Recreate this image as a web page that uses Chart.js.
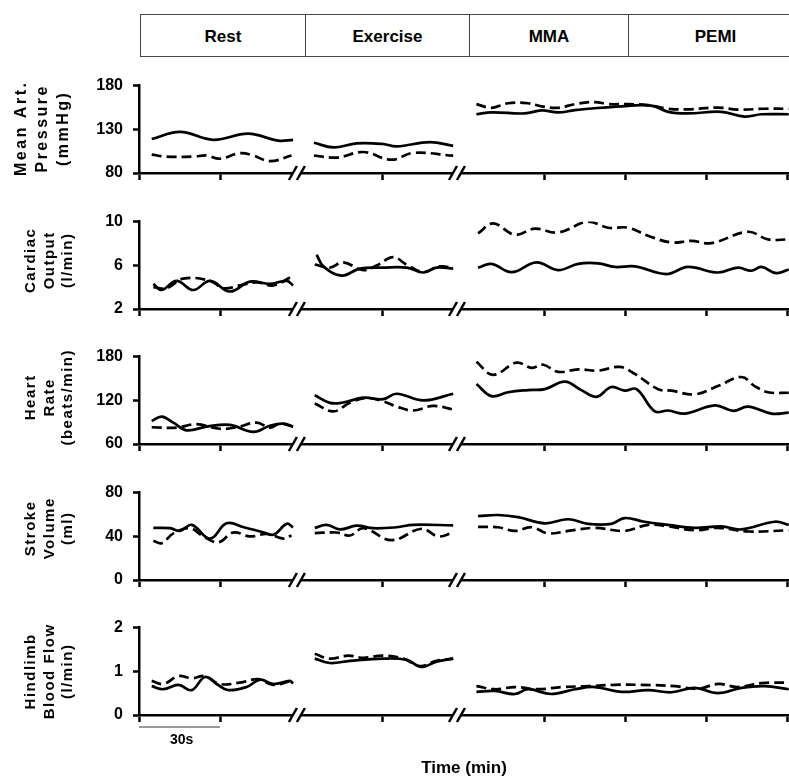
<!DOCTYPE html>
<html>
<head>
<meta charset="utf-8">
<script src="https://cdn.jsdelivr.net/npm/chart.js@4.4.0/dist/chart.umd.min.js"></script>
<style>
  body { margin: 0; background: #fff; }
  #wrap { position: relative; width: 789px; height: 777px; overflow: hidden; font-family: "Liberation Sans", Arial, sans-serif; }
  canvas { position: absolute; left: 0; }
  .phase { position: absolute; top: 14px; height: 43px; border: 1px solid #444; box-sizing: border-box;
           display: flex; align-items: center; justify-content: center; padding-top: 3px;
           font-weight: bold; font-size: 17px; color: #000; background: #fff; }
</style>
</head>
<body>
<div id="wrap">
  <div id="header"></div>
  <canvas id="cMap" width="789" height="130" style="top:66px"></canvas>
  <canvas id="cCo" width="789" height="130" style="top:202px"></canvas>
  <canvas id="cHr" width="789" height="130" style="top:337px"></canvas>
  <canvas id="cSv" width="789" height="130" style="top:473px"></canvas>
  <canvas id="cHbf" width="789" height="177" style="top:608px"></canvas>
</div>
<script>
'use strict'

// phases (seconds) shown in the header box
var phases = ['Rest', 'Exercise', 'MMA', 'PEMI'];
var phaseEdges = [0, 61, 121.8, 180.6, 245];

// time axis (seconds)
var xTicks = [0, 30, 90, 150, 180, 210, 240];
var axisBreaks = [58.4, 117.6];
var xMax = 240.4;

// [time s, value]; null = gap between recordings (rest / exercise / MMA+PEMI)
var mapSolid = [[4.7,118.9],[15.2,127],[27.5,118],[40.4,125],[51.5,117],[57,118], null,
  [64.7,114.6],[71.9,109.3],[80.5,113.9],[90.3,113.2],[95.3,110.4],[107.6,115.3],[116.2,111], null,
  [124.8,147.2],[130.4,149.3],[142.7,148.2],[148.9,151.7],[155,149.3],[161.2,152],[166.1,153.5],[178.4,156.3],
  [189.5,157],[195.7,150],[203,148.2],[215.4,150],[224,144.6],[230.2,147.2],[240.3,147.2]];
var mapDashed = [[4.7,101],[10.2,98.7],[20.1,98.7],[25,100],[29.9,96.3],[37.3,102.7],[42.3,100],[48.4,93.5],[56.4,100], null,
  [64.7,100],[73.1,97.7],[83,104],[93.4,95.2],[101.4,103],[116.2,99.8], null,
  [124.8,158.8],[130.4,154.6],[136.5,159.8],[143.9,159.8],[148.9,156.3],[155,154.6],[161.2,158.8],[168.6,161.2],
  [173.5,158.8],[180.9,158.8],[188.3,157.7],[195.7,153.5],[203,152.8],[214.1,154.9],[221.5,152.5],[231.4,153.5],[240.3,153.5]];

var coSolid = [[5.3,4.3],[8.4,3.74],[13.9,4.58],[20.1,3.74],[26.3,4.58],[33.6,3.6],[41,4.5],[48.4,4.3],[54.6,4.58],[57,4.16], null,
  [65.7,6.97],[68.2,5.9],[75,5.06],[81.7,5.7],[90.3,5.79],[99,5.79],[105.1,5.34],[110,5.79],[116.2,5.7], null,
  [125.4,5.79],[130.4,6.13],[137.8,5.37],[147,6.27],[155,5.56],[162.4,6.13],[169.8,6.18],[176,5.85],[183.4,5.9],
  [195.1,5.2],[203,5.85],[214.1,5.34],[221.5,5.79],[226.4,5.5],[230.2,5.85],[235.7,5.28],[240.3,5.62]];
var coDashed = [[5.3,4.0],[10.2,3.9],[16.4,4.78],[26.3,4.58],[31.2,3.9],[37.3,4.16],[43.5,4.44],[49.6,4.16],[56.4,4.95], null,
  [65,6.07],[70.6,5.79],[75.5,6.27],[83,5.56],[87.9,5.98],[94,6.74],[99,6.05],[105.1,5.4],[111.3,5.9],[116.2,5.75], null,
  [125.4,8.93],[131,9.83],[139,8.8],[146.4,9.35],[155,9.0],[166.1,10.0],[173.5,9.44],[180.9,9.44],[188.3,8.7],
  [196.9,8.09],[204.3,8.23],[211.7,8.03],[225.2,9.07],[232.6,8.37],[240.3,8.37]];

var hrSolid = [[4.7,91.4],[8.4,97.6],[12.7,89.3],[17.6,78.8],[25,83.8],[33.6,86.3],[42.3,76.7],[48.4,85.1],[53.4,88],[57,83.8], null,
  [65,126.9],[70.6,116.5],[75.5,117],[83,123.6],[90.3,121.5],[95.3,129],[105.1,119.8],[116.2,129], null,
  [124.8,142.4],[130.4,125.7],[136.5,131.1],[143.9,134],[150.1,135.3],[157.5,145.7],[163.6,134],[169.2,124.8],[174.7,138.2],
  [179.6,133.2],[184,135.3],[190.8,104.8],[195.7,106],[201.9,101.8],[213,113.1],[219.8,105.5],[225.2,111.4],[233.9,101.8],[240.3,103]];
var hrDashed = [[4.7,83],[13.9,82.5],[21.3,87.2],[29.9,80.9],[36.1,83],[43.5,89.3],[48.4,82.5],[52.2,88],[57,83.8], null,
  [65,115.6],[71.9,104.8],[78,116.5],[84.2,123],[90.3,118.6],[95.3,111.4],[101.4,106],[108.8,112.3],[116.2,107.3], null,
  [124.8,172.9],[131,155],[139.6,171.7],[145.2,164.5],[149.5,168.8],[155,159.1],[162.4,162.5],[169.8,160.8],[177.8,165.8],
  [183.4,156.2],[192,135.3],[197,133.2],[205.5,128.2],[214.1,139.5],[222.8,152],[227.7,139.5],[232.6,131.1],[240.3,130.3]];

var svSolid = [[5.3,47.7],[11.5,47.4],[15.2,44.9],[19.5,50.5],[26.3,37.9],[32.4,51.9],[38.8,48.3],[46.2,43.5],[49.9,41.6],[54.6,51.4],[57,48.3], null,
  [65,47.7],[69.4,50.5],[74.3,46.3],[80.5,49.7],[86.6,47.4],[95.3,48.3],[101.4,50.5],[116.2,50], null,
  [125.4,58.4],[132.8,59.5],[140.2,57.5],[150.1,51.9],[158.7,55.6],[166.1,51.4],[174.7,51.4],[179.6,56.7],[187,53.3],
  [195.7,50.5],[205.5,47.7],[215.4,49.1],[222.8,46.3],[235.1,53.3],[240.3,50.5]];
var svDashed = [[5.3,35.9],[8.4,33.7],[12.7,42.7],[18.9,47.4],[23.8,39.9],[29.3,34.5],[34.9,43.5],[41,39.9],[47.4,42.1],[53.4,37.9],[56.4,40.7], null,
  [65,42.9],[73.1,43.5],[78,40.7],[83,47.4],[93.4,36.5],[104.5,46.9],[110.7,39.9],[116.2,43.5], null,
  [125.4,48.6],[132.8,48.3],[139,44.9],[145.2,48.3],[151.3,42.7],[158.7,44.9],[168.6,47.7],[179.6,44.9],[188.3,50.5],
  [195.7,49.1],[205.5,45.5],[214.1,47.7],[225.2,44.4],[240.3,45.5]];

var hbfSolid = [[4.7,0.66],[9,0.59],[14.6,0.69],[19.5,0.57],[24.4,0.87],[28.7,0.71],[33,0.57],[39.8,0.64],[44.8,0.81],[49.6,0.71],[55.8,0.78],[57,0.72], null,
  [65,1.29],[70.6,1.19],[78,1.24],[90.3,1.29],[99,1.26],[104.5,1.1],[110,1.22],[116.2,1.29], null,
  [124.8,0.53],[131.6,0.55],[139,0.48],[143.9,0.59],[152.5,0.48],[161.2,0.59],[168.6,0.64],[178.4,0.53],[188.3,0.57],
  [196.9,0.52],[205.5,0.62],[214.1,0.5],[222.8,0.62],[231.4,0.66],[240.3,0.59]];
var hbfDashed = [[4.7,0.78],[9,0.71],[14.6,0.89],[19.5,0.84],[24.4,0.89],[29.9,0.71],[37.3,0.74],[44.1,0.82],[49.6,0.69],[56.4,0.78], null,
  [65,1.4],[70.6,1.29],[77.4,1.36],[83,1.31],[90.3,1.36],[97.8,1.29],[103.9,1.12],[110,1.24],[116.2,1.29], null,
  [124.8,0.66],[131.6,0.59],[139,0.64],[147.6,0.59],[156.3,0.64],[166.1,0.66],[176,0.69],[185.8,0.69],[198.2,0.66],
  [206.8,0.6],[214.1,0.71],[221.5,0.64],[230.2,0.73],[240.3,0.74]];

var FONT = '"Liberation Sans", Arial, sans-serif';

function toPoints(arr) {
    var out = [];
    arr.forEach(function (p, i) {
        if (p) out.push({ x: p[0], y: p[1] });
        else out.push({ x: arr[i - 1][0] + 1, y: null });
    });
    return out;
}

// axis breaks, rotated y titles, scale bar
var panelDecor = {
    id: 'panelDecor',
    afterDraw: function (chart, args, opts) {
        var ctx = chart.ctx, xs = chart.scales.x, ys = chart.scales.y;
        var base = ys.bottom;
        ctx.save();
        axisBreaks.forEach(function (t) {
            var px = xs.getPixelForValue(t);
            ctx.fillStyle = '#fff';
            ctx.fillRect(px - 4, base - 3, 8, 6);
            ctx.strokeStyle = '#000';
            ctx.lineWidth = 2.5;
            [-4, 4].forEach(function (d) {
                ctx.beginPath();
                ctx.moveTo(px + d - 4, base + 7);
                ctx.lineTo(px + d + 4, base - 7);
                ctx.stroke();
            });
        });

        ctx.fillStyle = '#000';
        ctx.font = 'bold ' + opts.size + 'px ' + FONT;
        if ('letterSpacing' in ctx) ctx.letterSpacing = opts.spacing + 'px';
        ctx.textAlign = 'center';
        ctx.textBaseline = 'middle';
        var cy = (ys.top + ys.bottom) / 2 + opts.dy;
        opts.lines.forEach(function (line, i) {
            ctx.save();
            ctx.translate(opts.x[i], cy);
            ctx.rotate(-Math.PI / 2);
            ctx.fillText(line, 0, 0);
            ctx.restore();
        });
        if ('letterSpacing' in ctx) ctx.letterSpacing = '0px';

        if (opts.scaleBar) {
            var x0 = xs.getPixelForValue(0), x1 = xs.getPixelForValue(30);
            ctx.strokeStyle = '#333';
            ctx.lineWidth = 1.2;
            ctx.beginPath();
            ctx.moveTo(x0, base + 12);
            ctx.lineTo(x1, base + 12);
            ctx.stroke();
            ctx.font = 'bold 14px ' + FONT;
            ctx.fillText('30s', (x0 + x1) / 2 + 2, base + 25);
            ctx.font = 'bold 17px ' + FONT;
            ctx.fillText('Time (min)', (xs.left + xs.right) / 2, base + 53);
        }
        ctx.restore();
    }
};

function makePanel(id, solid, dashed, yMin, yMax, yStep, title) {
    var canvas = document.getElementById(id);
    var padBottom = canvas.height - 12 - 95 - 23;
    return new Chart(canvas, {
        type: 'line',
        data: {
            datasets: [
                { data: toPoints(solid), borderColor: '#000', borderWidth: 2.7, pointRadius: 0, tension: 0.4, spanGaps: false },
                { data: toPoints(dashed), borderColor: '#000', borderWidth: 2.7, borderDash: [10, 5], pointRadius: 0, tension: 0.4, spanGaps: false }
            ]
        },
        options: {
            responsive: false,
            animation: false,
            devicePixelRatio: 1,
            layout: { padding: { top: 12, right: 0, bottom: padBottom, left: 0 } },
            plugins: { legend: { display: false }, tooltip: { enabled: false }, panelDecor: title },
            scales: {
                x: {
                    type: 'linear', min: 0, max: xMax,
                    afterBuildTicks: function (s) { s.ticks = xTicks.map(function (v) { return { value: v }; }); },
                    afterFit: function (s) { s.height = 23; },
                    ticks: { display: false },
                    grid: { display: true, drawOnChartArea: false, drawTicks: true, tickLength: 7, tickWidth: 2.5, tickColor: '#000' },
                    border: { display: true, color: '#000', width: 2.5 }
                },
                y: {
                    min: yMin, max: yMax,
                    afterFit: function (s) { s.width = 139; },
                    ticks: { stepSize: yStep, padding: 10, color: '#000', font: { family: FONT, size: 16, weight: 'bold' } },
                    grid: { display: true, drawOnChartArea: false, drawTicks: true, tickLength: 6, tickWidth: 2.5, tickColor: '#000' },
                    border: { display: true, color: '#000', width: 2.5 }
                }
            }
        },
        plugins: [panelDecor]
    });
}

var wide = { x: [31, 49.5, 68], size: 15, spacing: 1.5 };
var chMap = makePanel('cMap', mapSolid, mapDashed, 80, 180, 50,
    { lines: ['Mean Art.', 'Pressure', '(mmHg)'], x: [22, 43, 64], size: 16, spacing: 2.5, dy: -1 });
makePanel('cCo', coSolid, coDashed, 2, 10, 4,
    { lines: ['Cardiac', 'Output', '(l/min)'], x: wide.x, size: wide.size, spacing: wide.spacing, dy: -5 });
makePanel('cHr', hrSolid, hrDashed, 60, 180, 60,
    { lines: ['Heart', 'Rate', '(beats/min)'], x: wide.x, size: wide.size, spacing: wide.spacing, dy: -3 });
makePanel('cSv', svSolid, svDashed, 0, 80, 20,
    { lines: ['Stroke', 'Volume', '(ml)'], x: wide.x, size: wide.size, spacing: wide.spacing, dy: -8 });
makePanel('cHbf', hbfSolid, hbfDashed, 0, 2, 1,
    { lines: ['Hindlimb', 'Blood Flow', '(l/min)'], x: wide.x, size: wide.size, spacing: wide.spacing, dy: 0, scaleBar: true });

// header box positioned from the time scale
var xs = chMap.scales.x;
var header = document.getElementById('header');
phases.forEach(function (name, i) {
    var l = Math.round(xs.getPixelForValue(phaseEdges[i])) + 1;
    var r = Math.round(xs.getPixelForValue(phaseEdges[i + 1])) + 1;
    var d = document.createElement('div');
    d.className = 'phase';
    d.style.left = l + 'px';
    d.style.width = (r - l + 1) + 'px';
    d.textContent = name;
    header.appendChild(d);
});
</script>
</body>
</html>
